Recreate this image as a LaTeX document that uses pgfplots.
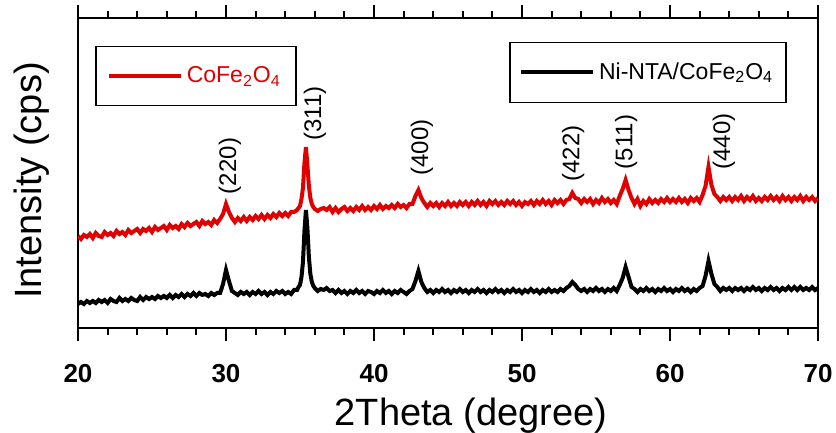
\documentclass[border=0pt]{standalone}
\usepackage{fontspec}
\setmainfont{Liberation Sans}
\usepackage{pgfplots}
\pgfplotsset{compat=1.18}
\usepackage{pgfplotstable}
\usetikzlibrary{calc}
\definecolor{xrdred}{RGB}{224,0,0}

\pgfplotstableread{
x r b
20.0 92 24
20.2 89 26
20.4 93 24
20.6 91 27
20.8 94 25
21.0 90 27
21.2 95 25
21.4 92 28
21.6 91 26
21.8 96 28
22.0 93 25
22.2 95 29
22.4 92 27
22.6 97 26
22.8 94 30
23.0 96 27
23.2 93 29
23.4 98 27
23.6 95 30
23.8 97 28
24.0 99 27
24.2 95 31
24.4 99 28
24.6 97 31
24.8 100 29
25.0 96 31
25.2 101 29
25.4 98 32
25.6 100 30
25.8 102 32
26.0 98 30
26.2 103 33
26.4 100 30
26.6 102 33
26.8 99 31
27.0 104 34
27.2 101 31
27.4 105 34
27.6 102 32
27.8 104 35
28.0 106 32
28.2 102 35
28.4 107 33
28.6 104 34
28.8 106 32
29.0 103 35
29.2 108 33
29.4 105 35
29.6 109 35
29.8 114 44
30.0 124 58
30.2 116 47
30.4 110 37
30.6 106 35
30.8 110 33
31.0 107 36
31.2 111 34
31.4 107 36
31.6 111 33
31.8 108 36
32.0 112 34
32.2 109 37
32.4 113 34
32.6 109 36
32.8 113 33
33.0 110 36
33.2 114 34
33.4 111 37
33.6 115 35
33.8 112 37
34.0 115 34
34.2 112 36
34.4 116 34
34.6 116 38
34.8 118 38
34.9 120 41
35.0 122 43
35.1 129 51
35.2 140 66
35.3 165 97
35.4 181 118
35.5 163 100
35.6 142 71
35.7 130 54
35.8 124 46
35.9 121 42
36.0 119 40
36.2 117 37
36.4 119 39
36.6 120 38
36.8 118 40
37.0 121 37
37.2 116 38
37.4 120 35
37.6 116 38
37.8 119 35
38.0 121 37
38.2 117 34
38.4 120 37
38.6 117 35
38.8 121 38
39.0 118 35
39.2 122 37
39.4 118 34
39.6 121 37
39.8 118 36
40.0 122 34
40.2 119 37
40.4 123 35
40.6 119 38
40.8 122 35
41.0 120 37
41.2 123 34
41.4 120 37
41.6 124 35
41.8 121 38
42.0 123 36
42.2 120 34
42.4 124 37
42.6 124 39
42.8 132 47
43.0 138 57
43.2 130 46
43.4 125 40
43.6 121 36
43.8 125 38
44.0 122 35
44.2 125 38
44.4 121 36
44.6 125 39
44.8 122 36
45.0 126 38
45.2 122 35
45.4 125 38
45.6 122 36
45.8 126 39
46.0 123 36
46.2 126 38
46.4 122 35
46.6 126 38
46.8 123 36
47.0 127 39
47.2 123 36
47.4 126 38
47.6 122 35
47.8 127 38
48.0 124 36
48.2 127 39
48.4 123 36
48.6 126 38
48.8 123 35
49.0 127 38
49.2 124 36
49.4 127 39
49.6 123 36
49.8 126 38
50.0 122 35
50.2 126 38
50.4 124 36
50.6 127 39
50.8 123 36
51.0 127 38
51.2 124 35
51.4 128 38
51.6 124 36
51.8 127 39
52.0 123 36
52.2 128 38
52.4 125 36
52.6 128 39
52.8 124 37
53.0 128 40
53.2 129 42
53.4 135 46
53.6 130 43
53.8 129 39
54.0 125 37
54.2 129 39
54.4 126 36
54.6 129 39
54.8 124 37
55.0 128 40
55.2 125 37
55.4 130 39
55.6 126 36
55.8 129 39
56.0 125 37
56.2 128 40
56.4 124 37
56.6 132 43
56.8 139 50
57.0 148 61
57.2 138 51
57.4 130 41
57.6 124 39
57.8 129 36
58.0 122 39
58.2 127 37
58.4 124 40
58.6 129 37
58.8 125 39
59.0 128 36
59.2 125 39
59.4 129 37
59.6 126 40
59.8 130 37
60.0 126 39
60.2 129 36
60.4 126 39
60.6 130 37
60.8 126 40
61.0 129 37
61.2 125 39
61.4 130 36
61.6 127 39
61.8 130 37
62.0 126 40
62.2 133 42
62.4 142 52
62.6 161 67
62.8 143 54
63.0 134 44
63.2 131 41
63.4 127 37
63.6 131 40
63.8 128 38
64.0 131 40
64.2 127 37
64.4 131 40
64.6 128 38
64.8 132 40
65.0 127 37
65.2 131 40
65.4 128 38
65.6 132 41
65.8 127 38
66.0 130 40
66.2 127 37
66.4 131 40
66.6 128 38
66.8 132 41
67.0 128 38
67.2 131 40
67.4 127 37
67.6 132 40
67.8 128 38
68.0 131 41
68.2 127 38
68.4 131 41
68.6 128 38
68.8 132 41
69.0 127 38
69.2 131 40
69.4 128 38
69.6 131 41
69.8 127 38
70.0 130 40
}\xrd

\pgfplotsset{
  xrdticks/.style={
    xmin=20, xmax=70, ymin=0, ymax=310,
    xtick={20,30,40,50,60,70}, minor x tick num=4, ytick=\empty,
    tick align=outside,
    major tick length=6.5pt, minor tick length=3.5pt,
    every tick/.style={black, line width=1pt},
  }
}

\begin{document}
\begin{tikzpicture}
\begin{axis}[name=ax, scale only axis, width=370pt, height=155pt, xrdticks,
  xticklabels={20,30,40,50,60,70},
  xtick pos=lower,
  axis line style={line width=1.25pt},
  xticklabel style={font=\bfseries\fontsize{13}{15}\selectfont, yshift=-8pt},
  xlabel={2Theta (degree)}, ylabel={Intensity (cps)},
  label style={font=\fontsize{19}{22}\selectfont},
  x label style={at={(axis description cs:0.531,0)}, anchor=base, yshift=-48.5pt},
  y label style={at={(axis description cs:0,0.476)}, anchor=center, yshift=23pt},
  legend style={at={(axis description cs:0.023,0.91)}, anchor=north west,
    draw=black, line width=0.75pt, font=\fontsize{11.5}{14}\selectfont,
    text=xrdred, inner xsep=5.5pt, inner ysep=8pt},
  legend image code/.code={\draw[#1, line width=2pt] (0pt,0pt) -- (36pt,0pt);},
]
\addplot[xrdred, line width=2pt] table[x=x,y=r]{\xrd};
\addlegendentry{CoFe\textsubscript{2}O\textsubscript{4}}
\node[rotate=90, font=\fontsize{12}{14}\selectfont] at (axis cs:30.27,162) {(220)};
\node[rotate=90, font=\fontsize{12}{14}\selectfont] at (axis cs:36.01,214.5) {(311)};
\node[rotate=90, font=\fontsize{12}{14}\selectfont] at (axis cs:43.24,180.5) {(400)};
\node[rotate=90, font=\fontsize{12}{14}\selectfont] at (axis cs:53.45,174.5) {(422)};
\node[rotate=90, font=\fontsize{12}{14}\selectfont] at (axis cs:57.03,186) {(511)};
\node[rotate=90, font=\fontsize{12}{14}\selectfont] at (axis cs:63.65,186.5) {(440)};
\end{axis}
\begin{axis}[scale only axis, width=370pt, height=155pt, xrdticks,
  xtick pos=upper, xticklabels={},
  axis line style={draw=none},
  legend style={at={(axis description cs:0.958,0.923)}, anchor=north east,
    draw=black, line width=0.75pt, font=\fontsize{11.5}{14}\selectfont,
    text=black, inner xsep=4.5pt, inner ysep=8pt},
  legend image code/.code={\draw[#1, line width=2pt] (0pt,0pt) -- (36pt,0pt);},
]
\addplot[black, line width=2pt] table[x=x,y=b]{\xrd};
\addlegendentry{Ni-NTA/CoFe\textsubscript{2}O\textsubscript{4}}
\end{axis}
% bottom tick marks, drawn outward from the lower axis line
\foreach \k in {0,10,20,30,40,50}
  \draw[black, line width=1pt] ($(ax.south west)+(\k*7.4pt,0)$) -- ++(0,-6.5pt);
\foreach \k in {2,4,6,8,12,14,16,18,22,24,26,28,32,34,36,38,42,44,46,48}
  \draw[black, line width=1pt] ($(ax.south west)+(\k*7.4pt,0)$) -- ++(0,-3.5pt);
\pgfresetboundingbox
\path[use as bounding box] ($(ax.south west)+(-39pt,-52pt)$) rectangle ($(ax.north east)+(9pt,9pt)$);
\end{tikzpicture}
\end{document}
